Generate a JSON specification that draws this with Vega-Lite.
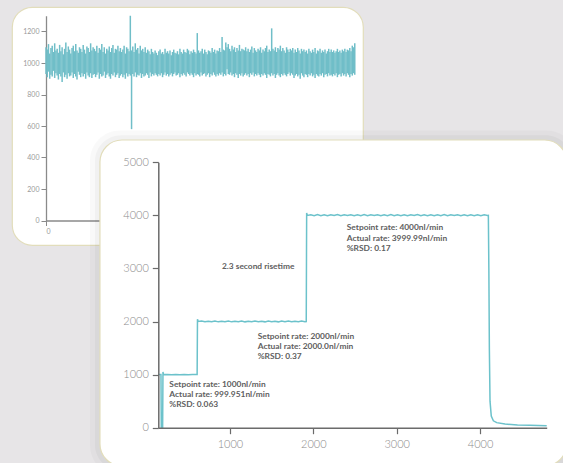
{
"$schema": "https://vega.github.io/schema/vega-lite/v6.json",
"width": 351, "height": 238,
"autosize": "none",
"padding": {"left": 12, "top": 7, "right": 200, "bottom": 218},
"background": "#e7e5e7",
"config": {
  "view": {"fill": "white", "stroke": "#e2ddbb", "strokeWidth": 1.2, "cornerRadius": 20},
  "axis": {"grid": false, "title": null, "format": "d"}
},
"datasets": {
  "top": [
{"t":0,"lo":930,"hi":1100},{"t":4,"lo":910,"hi":1085},{"t":8,"lo":945,"hi":1120},{"t":12,"lo":900,"hi":1060},{"t":16,"lo":925,"hi":1095},{"t":20,"lo":915,"hi":1110},{"t":24,"lo":950,"hi":1070},{"t":28,"lo":905,"hi":1125},{"t":32,"lo":935,"hi":1080},{"t":36,"lo":920,"hi":1090},
{"t":40,"lo":895,"hi":1065},{"t":44,"lo":930,"hi":1115},{"t":48,"lo":915,"hi":1075},{"t":52,"lo":880,"hi":1100},{"t":56,"lo":940,"hi":1055},{"t":60,"lo":910,"hi":1090},{"t":64,"lo":925,"hi":1130},{"t":68,"lo":900,"hi":1070},{"t":72,"lo":935,"hi":1105},{"t":76,"lo":915,"hi":1085},
{"t":80,"lo":920,"hi":1060},{"t":84,"lo":940,"hi":1095},{"t":88,"lo":905,"hi":1110},{"t":92,"lo":930,"hi":1075},{"t":96,"lo":915,"hi":1120},{"t":100,"lo":895,"hi":1080},{"t":104,"lo":945,"hi":1065},{"t":108,"lo":925,"hi":1100},{"t":112,"lo":910,"hi":1090},{"t":116,"lo":935,"hi":1070},
{"t":120,"lo":915,"hi":1115},{"t":124,"lo":930,"hi":1085},{"t":128,"lo":900,"hi":1060},{"t":132,"lo":940,"hi":1105},{"t":136,"lo":920,"hi":1095},{"t":140,"lo":910,"hi":1070},{"t":144,"lo":935,"hi":1125},{"t":148,"lo":905,"hi":1080},{"t":152,"lo":925,"hi":1100},{"t":156,"lo":930,"hi":1090},
{"t":160,"lo":910,"hi":1075},{"t":164,"lo":925,"hi":1110},{"t":168,"lo":940,"hi":1065},{"t":172,"lo":900,"hi":1095},{"t":176,"lo":930,"hi":1085},{"t":180,"lo":915,"hi":1120},{"t":184,"lo":920,"hi":1070},{"t":188,"lo":945,"hi":1100},{"t":192,"lo":905,"hi":1060},{"t":196,"lo":925,"hi":1090},
{"t":200,"lo":935,"hi":1080},{"t":204,"lo":915,"hi":1105},{"t":208,"lo":900,"hi":1070},{"t":212,"lo":930,"hi":1095},{"t":216,"lo":920,"hi":1115},{"t":220,"lo":940,"hi":1065},{"t":224,"lo":910,"hi":1090},{"t":228,"lo":925,"hi":1085},{"t":232,"lo":935,"hi":1110},{"t":236,"lo":905,"hi":1075},
{"t":240,"lo":920,"hi":1095},{"t":244,"lo":930,"hi":1070},{"t":248,"lo":910,"hi":1085},{"t":252,"lo":925,"hi":1110},{"t":256,"lo":900,"hi":1060},{"t":260,"lo":935,"hi":1100},{"t":264,"lo":915,"hi":1090},{"t":268,"lo":930,"hi":1075},{"t":272,"lo":920,"hi":1300},{"t":276,"lo":580,"hi":1080},
{"t":280,"lo":930,"hi":1105},{"t":284,"lo":915,"hi":1070},{"t":288,"lo":940,"hi":1125},{"t":292,"lo":910,"hi":1085},{"t":296,"lo":925,"hi":1095},{"t":300,"lo":920,"hi":1060},{"t":304,"lo":935,"hi":1110},{"t":308,"lo":905,"hi":1080},{"t":312,"lo":930,"hi":1090},{"t":316,"lo":915,"hi":1070},
{"t":320,"lo":920,"hi":1100},{"t":324,"lo":935,"hi":1065},{"t":328,"lo":925,"hi":1085},{"t":332,"lo":905,"hi":1075},{"t":336,"lo":940,"hi":1055},{"t":340,"lo":915,"hi":1090},{"t":344,"lo":930,"hi":1070},{"t":348,"lo":920,"hi":1060},{"t":352,"lo":935,"hi":1080},{"t":356,"lo":925,"hi":1065},
{"t":360,"lo":915,"hi":1050},{"t":364,"lo":930,"hi":1075},{"t":368,"lo":920,"hi":1085},{"t":372,"lo":935,"hi":1060},{"t":376,"lo":910,"hi":1070},{"t":380,"lo":925,"hi":1055},{"t":384,"lo":940,"hi":1090},{"t":388,"lo":920,"hi":1065},{"t":392,"lo":930,"hi":1075},{"t":396,"lo":915,"hi":1060},
{"t":400,"lo":925,"hi":1080},{"t":404,"lo":935,"hi":1050},{"t":408,"lo":915,"hi":1070},{"t":412,"lo":930,"hi":1085},{"t":416,"lo":940,"hi":1065},{"t":420,"lo":920,"hi":1060},{"t":424,"lo":925,"hi":1075},{"t":428,"lo":935,"hi":1055},{"t":432,"lo":910,"hi":1090},{"t":436,"lo":930,"hi":1070},
{"t":440,"lo":920,"hi":1060},{"t":444,"lo":935,"hi":1085},{"t":448,"lo":925,"hi":1070},{"t":452,"lo":915,"hi":1065},{"t":456,"lo":940,"hi":1090},{"t":460,"lo":930,"hi":1080},{"t":464,"lo":920,"hi":1055},{"t":468,"lo":935,"hi":1075},{"t":472,"lo":925,"hi":1065},{"t":476,"lo":910,"hi":1085},
{"t":480,"lo":935,"hi":1070},{"t":484,"lo":920,"hi":1060},{"t":488,"lo":930,"hi":1190},{"t":492,"lo":925,"hi":1080},{"t":496,"lo":915,"hi":1065},{"t":500,"lo":940,"hi":1075},{"t":504,"lo":920,"hi":1090},{"t":508,"lo":930,"hi":1060},{"t":512,"lo":935,"hi":1085},{"t":516,"lo":915,"hi":1070},
{"t":520,"lo":925,"hi":1055},{"t":524,"lo":935,"hi":1080},{"t":528,"lo":910,"hi":1075},{"t":532,"lo":930,"hi":1065},{"t":536,"lo":920,"hi":1095},{"t":540,"lo":940,"hi":1070},{"t":544,"lo":925,"hi":1085},{"t":548,"lo":915,"hi":1060},{"t":552,"lo":930,"hi":1080},{"t":556,"lo":920,"hi":1075},
{"t":560,"lo":935,"hi":1095},{"t":564,"lo":925,"hi":1070},{"t":568,"lo":940,"hi":1165},{"t":572,"lo":915,"hi":1085},{"t":576,"lo":930,"hi":1080},{"t":580,"lo":920,"hi":1130},{"t":584,"lo":960,"hi":1100},{"t":588,"lo":930,"hi":1120},{"t":592,"lo":925,"hi":1090},{"t":596,"lo":940,"hi":1075},
{"t":600,"lo":920,"hi":1110},{"t":604,"lo":930,"hi":1085},{"t":608,"lo":910,"hi":1100},{"t":612,"lo":935,"hi":1070},{"t":616,"lo":925,"hi":1095},{"t":620,"lo":905,"hi":1080},{"t":624,"lo":930,"hi":1115},{"t":628,"lo":920,"hi":1075},{"t":632,"lo":935,"hi":1090},{"t":636,"lo":915,"hi":1085},
{"t":640,"lo":925,"hi":1080},{"t":644,"lo":935,"hi":1100},{"t":648,"lo":920,"hi":1075},{"t":652,"lo":930,"hi":1090},{"t":656,"lo":910,"hi":1070},{"t":660,"lo":935,"hi":1085},{"t":664,"lo":925,"hi":1105},{"t":668,"lo":940,"hi":1065},{"t":672,"lo":915,"hi":1095},{"t":676,"lo":930,"hi":1080},
{"t":680,"lo":920,"hi":1070},{"t":684,"lo":935,"hi":1090},{"t":688,"lo":925,"hi":1080},{"t":692,"lo":910,"hi":1100},{"t":696,"lo":930,"hi":1065},{"t":700,"lo":920,"hi":1085},{"t":704,"lo":935,"hi":1075},{"t":708,"lo":925,"hi":1095},{"t":712,"lo":905,"hi":1110},{"t":716,"lo":930,"hi":1070},
{"t":720,"lo":925,"hi":1085},{"t":724,"lo":915,"hi":1075},{"t":728,"lo":935,"hi":1220},{"t":732,"lo":920,"hi":1090},{"t":736,"lo":930,"hi":1080},{"t":740,"lo":905,"hi":1100},{"t":744,"lo":925,"hi":1070},{"t":748,"lo":935,"hi":1095},{"t":752,"lo":920,"hi":1085},{"t":756,"lo":910,"hi":1110},
{"t":760,"lo":930,"hi":1075},{"t":764,"lo":920,"hi":1095},{"t":768,"lo":935,"hi":1080},{"t":772,"lo":925,"hi":1065},{"t":776,"lo":915,"hi":1100},{"t":780,"lo":930,"hi":1085},{"t":784,"lo":940,"hi":1070},{"t":788,"lo":920,"hi":1090},{"t":792,"lo":935,"hi":1080},{"t":796,"lo":925,"hi":1095},
{"t":800,"lo":905,"hi":1065},{"t":804,"lo":920,"hi":1085},{"t":808,"lo":930,"hi":1070},{"t":812,"lo":915,"hi":1095},{"t":816,"lo":925,"hi":1080},{"t":820,"lo":900,"hi":1060},{"t":824,"lo":935,"hi":1090},{"t":828,"lo":920,"hi":1075},{"t":832,"lo":910,"hi":1085},{"t":836,"lo":930,"hi":1070},
{"t":840,"lo":925,"hi":1080},{"t":844,"lo":910,"hi":1060},{"t":848,"lo":930,"hi":1090},{"t":852,"lo":920,"hi":1075},{"t":856,"lo":935,"hi":1065},{"t":860,"lo":915,"hi":1085},{"t":864,"lo":925,"hi":1070},{"t":868,"lo":905,"hi":1095},{"t":872,"lo":930,"hi":1060},{"t":876,"lo":920,"hi":1080},
{"t":880,"lo":915,"hi":1075},{"t":884,"lo":930,"hi":1090},{"t":888,"lo":920,"hi":1065},{"t":892,"lo":935,"hi":1080},{"t":896,"lo":910,"hi":1070},{"t":900,"lo":925,"hi":1085},{"t":904,"lo":930,"hi":1060},{"t":908,"lo":915,"hi":1075},{"t":912,"lo":935,"hi":1090},{"t":916,"lo":920,"hi":1070},
{"t":920,"lo":925,"hi":1085},{"t":924,"lo":915,"hi":1070},{"t":928,"lo":930,"hi":1080},{"t":932,"lo":920,"hi":1065},{"t":936,"lo":935,"hi":1075},{"t":940,"lo":910,"hi":1090},{"t":944,"lo":925,"hi":1070},{"t":948,"lo":930,"hi":1080},{"t":952,"lo":915,"hi":1065},{"t":956,"lo":935,"hi":1085},
{"t":960,"lo":920,"hi":1075},{"t":964,"lo":930,"hi":1090},{"t":968,"lo":915,"hi":1070},{"t":972,"lo":935,"hi":1085},{"t":976,"lo":925,"hi":1080},{"t":980,"lo":910,"hi":1095},{"t":984,"lo":930,"hi":1075},{"t":988,"lo":920,"hi":1110},{"t":992,"lo":935,"hi":1100},{"t":996,"lo":925,"hi":1125}
  ],
  "bottom": [
{"t":140,"r":1000},{"t":172,"r":1000},{"t":176,"r":0},{"t":192,"r":0},{"t":196,"r":1050},{"t":202,"r":1000},{"t":250,"r":1004},{"t":300,"r":997},{"t":350,"r":1003},{"t":400,"r":999},{"t":450,"r":1002},{"t":500,"r":998},{"t":550,"r":1003},{"t":600,"r":1000},{"t":606,"r":1000},{"t":610,"r":2045},{"t":618,"r":2000},
{"t":660,"r":2008},{"t":700,"r":1995},{"t":740,"r":2006},{"t":780,"r":1996},{"t":820,"r":2010},{"t":860,"r":1994},{"t":900,"r":2005},{"t":940,"r":1997},{"t":980,"r":2009},{"t":1020,"r":1994},{"t":1060,"r":2006},{"t":1100,"r":1996},{"t":1140,"r":2010},{"t":1180,"r":1994},{"t":1220,"r":2007},{"t":1260,"r":1995},{"t":1300,"r":2009},{"t":1340,"r":1996},{"t":1380,"r":2006},{"t":1420,"r":1994},{"t":1460,"r":2010},{"t":1500,"r":1996},{"t":1540,"r":2007},{"t":1580,"r":1994},{"t":1620,"r":2008},{"t":1660,"r":1997},{"t":1700,"r":2009},{"t":1740,"r":1995},{"t":1780,"r":2006},{"t":1820,"r":1996},{"t":1860,"r":2008},{"t":1900,"r":1998},{"t":1915,"r":2000},{"t":1920,"r":4045},{"t":1928,"r":4000},
{"t":1970,"r":4012},{"t":2010,"r":3993},{"t":2050,"r":4014},{"t":2090,"r":3995},{"t":2130,"r":4010},{"t":2170,"r":3992},{"t":2210,"r":4013},{"t":2250,"r":3996},{"t":2290,"r":4015},{"t":2330,"r":3993},{"t":2370,"r":4010},{"t":2410,"r":3996},{"t":2450,"r":4013},{"t":2490,"r":3993},{"t":2530,"r":4011},{"t":2570,"r":3995},{"t":2610,"r":4014},{"t":2650,"r":3994},{"t":2690,"r":4010},{"t":2730,"r":3996},{"t":2770,"r":4012},{"t":2810,"r":3993},{"t":2850,"r":4012},{"t":2890,"r":3995},{"t":2930,"r":4015},{"t":2970,"r":3993},{"t":3010,"r":4010},{"t":3050,"r":3995},{"t":3090,"r":4013},{"t":3130,"r":3993},{"t":3170,"r":4011},{"t":3210,"r":3996},{"t":3250,"r":4014},{"t":3290,"r":3994},{"t":3330,"r":4010},{"t":3370,"r":3995},{"t":3410,"r":4012},{"t":3450,"r":3993},{"t":3490,"r":4012},{"t":3530,"r":3995},{"t":3570,"r":4014},{"t":3610,"r":3993},{"t":3650,"r":4010},{"t":3690,"r":3996},{"t":3730,"r":4012},{"t":3770,"r":3994},{"t":3810,"r":4011},{"t":3850,"r":3993},{"t":3890,"r":4010},{"t":3930,"r":3995},{"t":3970,"r":4013},{"t":4010,"r":3994},{"t":4050,"r":4010},{"t":4090,"r":3998},{"t":4100,"r":4000},
{"t":4106,"r":3000},{"t":4112,"r":1500},{"t":4120,"r":500},{"t":4135,"r":220},{"t":4160,"r":130},{"t":4200,"r":95},{"t":4300,"r":68},{"t":4450,"r":52},{"t":4600,"r":44},{"t":4800,"r":36}
  ],
  "notes": [
{"x":272,"y":818,"label":"Setpoint rate: 1000nl/min"},
{"x":272,"y":629,"label":"Actual rate: 999.951nl/min"},
{"x":272,"y":441,"label":"%RSD: 0.063"},
{"x":1333,"y":1728,"label":"Setpoint rate: 2000nl/min"},
{"x":1333,"y":1539,"label":"Actual rate: 2000.0nl/min"},
{"x":1333,"y":1351,"label":"%RSD: 0.37"},
{"x":2401,"y":3773,"label":"Setpoint rate: 4000nl/min"},
{"x":2401,"y":3580,"label":"Actual rate: 3999.99nl/min"},
{"x":2401,"y":3392,"label":"%RSD: 0.17"},
{"x":904,"y":3046,"label":"2.3 second risetime"}
  ]
},
"layer": [
  {
    "data": {"name": "top"},
    "mark": {"type": "rule", "color": "#70bec8", "strokeWidth": 1.5},
    "encoding": {
      "x": {"field": "t", "type": "quantitative",
            "scale": {"domain": [0, 1000], "range": [34, 344], "nice": false, "zero": false},
            "axis": {"orient": "bottom", "offset": -24.5, "values": [0], "domainColor": "#8a8a8a", "domainWidth": 1.3, "tickColor": "#8a8a8a", "tickSize": 5, "tickWidth": 1, "labelColor": "#9a9a9a", "labelFontSize": 7, "labelPadding": 2, "labelFont": "Lato", "zindex": 0}},
      "y": {"field": "lo", "type": "quantitative",
            "scale": {"domain": [0, 1300], "range": [213.5, 8.75], "nice": false, "zero": false},
            "axis": {"orient": "left", "offset": -34, "values": [0, 200, 400, 600, 800, 1000, 1200], "domainColor": "#8a8a8a", "domainWidth": 1.3, "tickColor": "#8a8a8a", "tickSize": 5, "tickWidth": 1, "labelColor": "#9a9a9a", "labelFontSize": 7, "labelPadding": 2, "labelFont": "Lato", "zindex": 0}},
      "y2": {"field": "hi"}
    }
  },
  {
    "layer": [
      {
        "data": {"values": [{}]},
        "mark": {"type": "rect", "fill": "#000000", "opacity": 0.025, "cornerRadius": 30},
        "encoding": {
          "x": {"datum": -680, "type": "quantitative"},
          "x2": {"datum": 5160},
          "y": {"datum": 5600, "type": "quantitative"},
          "y2": {"datum": -900}
        }
      },
      {
        "data": {"values": [{}]},
        "mark": {"type": "rect", "fill": "#000000", "opacity": 0.03, "cornerRadius": 26},
        "encoding": {
          "x": {"datum": -620, "type": "quantitative"},
          "x2": {"datum": 5100},
          "y": {"datum": 5510, "type": "quantitative"},
          "y2": {"datum": -810}
        }
      },
      {
        "data": {"values": [{}]},
        "mark": {"type": "rect", "fill": "white", "stroke": "#e2ddbb", "strokeWidth": 1.2, "cornerRadius": 22},
        "encoding": {
          "x": {"datum": -560, "type": "quantitative"},
          "x2": {"datum": 5040},
          "y": {"datum": 5420, "type": "quantitative"},
          "y2": {"datum": -720}
        }
      },
      {
        "data": {"name": "bottom"},
        "mark": {"type": "line", "color": "#6cc2cb", "strokeWidth": 1.5},
        "encoding": {
          "x": {"field": "t", "type": "quantitative",
                "scale": {"domain": [140, 4800], "range": [146.3, 534.7], "nice": false, "zero": false},
                "axis": {"orient": "bottom", "offset": 182.7, "values": [1000, 2000, 3000, 4000], "domainColor": "#6b6b6b", "domainWidth": 1.5, "tickColor": "#6b6b6b", "tickSize": 6, "tickWidth": 1.2, "labelColor": "#8c8c8c", "labelFontSize": 11, "labelPadding": 5, "labelFont": "Lato", "labelFontWeight": 300, "zindex": 1}},
          "y": {"field": "r", "type": "quantitative",
                "scale": {"domain": [0, 5000], "range": [420.7, 155.3], "nice": false, "zero": false},
                "axis": {"orient": "left", "offset": -146.3, "values": [0, 1000, 2000, 3000, 4000, 5000], "domainColor": "#6b6b6b", "domainWidth": 1.5, "tickColor": "#6b6b6b", "tickSize": 6, "tickWidth": 1.2, "labelColor": "#8c8c8c", "labelFontSize": 11, "labelPadding": 4, "labelFont": "Lato", "labelFontWeight": 300, "zindex": 1}}
        }
      },
      {
        "data": {"name": "notes"},
        "mark": {"type": "text", "align": "left", "baseline": "middle", "font": "Lato", "fontWeight": "bold", "fontSize": 8.4, "color": "#606060"},
        "encoding": {
          "x": {"field": "x", "type": "quantitative"},
          "y": {"field": "y", "type": "quantitative"},
          "text": {"field": "label"}
        }
      }
    ]
  }
],
"resolve": {"scale": {"x": "independent", "y": "independent"}, "axis": {"x": "independent", "y": "independent"}}
}
